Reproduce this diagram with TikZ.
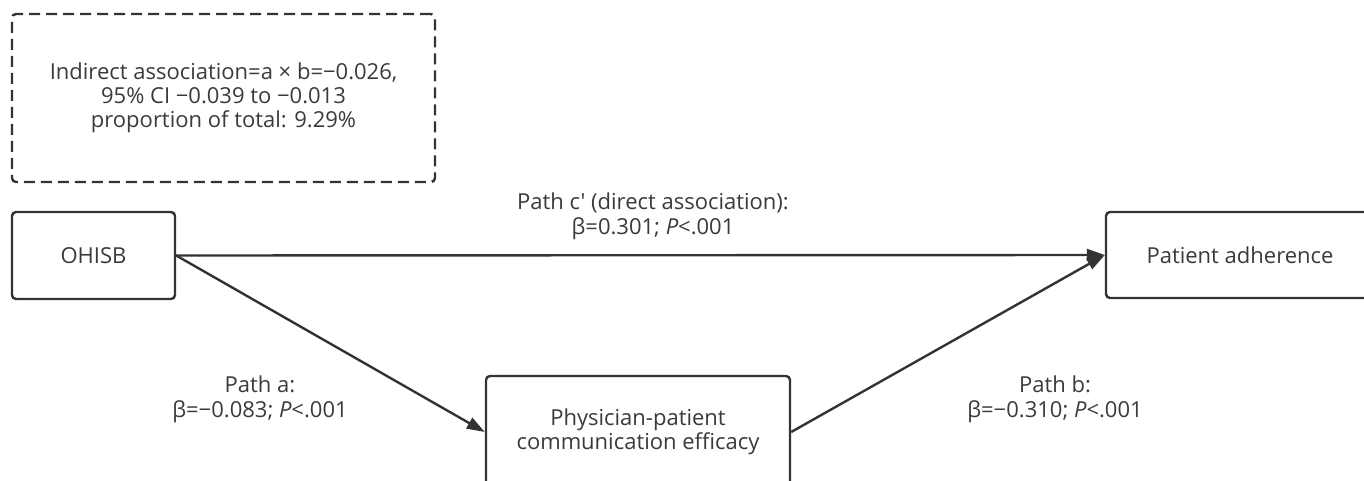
\documentclass[tikz,border=0pt]{standalone}
\usepackage{fontspec}
\setmainfont{Open Sans}[Ligatures=TeXOff]
\usetikzlibrary{arrows.meta}

\definecolor{linecol}{HTML}{333333}
\definecolor{textcol}{HTML}{3A3A3A}

\begin{document}
\begin{tikzpicture}[x=0.5pt,y=-0.5pt]

\tikzset{box/.style = {draw=linecol, line width=1.2pt, rounded corners=2pt, text=textcol, align=center, inner sep=0pt, font=\fontsize{11}{12}\selectfont}}
\tikzset{note/.style = {box, dash pattern=on 5.5pt off 3pt}}
\tikzset{lbl/.style = {text=textcol, align=center, inner sep=0pt, font=\fontsize{11}{12.5}\selectfont}}
\tikzset{edge/.style = {draw=linecol, line width=1.2pt, -{Triangle[length=9pt,width=6pt]}}}

\useasboundingbox (0,0) rectangle (1364,481);
\clip (0,0) rectangle (1364,481);

%boxes
\node[note, minimum width=211.5pt, minimum height=84pt] (ind) at (223.5,98) {Indirect association=a × b=−0.026,\\95\% CI −0.039 to −0.013\\proportion of total: 9.29\%};
\node[box, minimum width=81.5pt, minimum height=43.5pt] (ohisb) at (93.5,255.5) {OHISB};
\node[box, minimum width=152pt, minimum height=56pt] (phys) at (638,432) {Physician-patient\\communication efficacy};
\node[box, minimum width=134pt, minimum height=43pt] (adher) at (1240,255) {Patient adherence};

%paths
\draw[edge] (ohisb.east) -- (adher.west);
\draw[edge] (ohisb.east) -- (phys.west);
\draw[edge] (phys.east) -- (adher.west);

%labels
\node[lbl] (lc) at (653,216) {Path c' (direct association):\\β=0.301; \textit{P}<.001};
\node[lbl] (la) at (260,399) {Path a:\\β=−0.083; \textit{P}<.001};
\node[lbl] (lb) at (1055,399) {Path b:\\β=−0.310; \textit{P}<.001};

\end{tikzpicture}
\end{document}
